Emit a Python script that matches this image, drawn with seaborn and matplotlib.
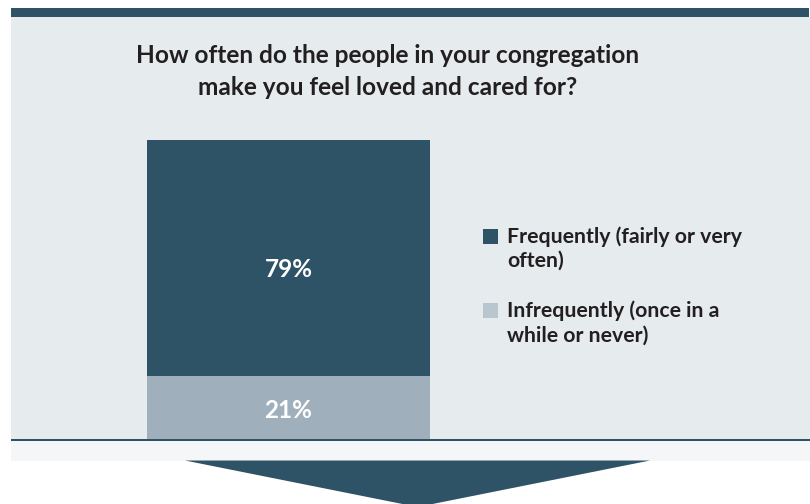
import matplotlib
matplotlib.use("Agg")
import matplotlib.pyplot as plt
from matplotlib.patches import Rectangle, Polygon
import seaborn as sns
import pandas as pd

# Survey response shares (percent)
categories = ["Frequently (fairly or very\noften)", "Infrequently (once in a\nwhile or never)"]
values = [79, 21]
value_labels = ["79%", "21%"]
title = "How often do the people in your congregation\nmake you feel loved and cared for?"

DARK = "#2e5266"
LIGHT_BAR = "#9fb0bc"
LIGHT_SWATCH = "#b7c6cf"
PANEL = "#e6ebee"
STRIP = "#f4f6f8"
TEXT = "#231f20"

sns.set_theme(style="white")
plt.rcParams["font.family"] = ["Lato", "DejaVu Sans"]

W, H = 810, 504
fig = plt.figure(figsize=(W / 100, H / 100), dpi=100)
fig.patch.set_facecolor("white")

# Background layer in pixel coordinates
bg = fig.add_axes([0, 0, 1, 1])
bg.set_xlim(0, W)
bg.set_ylim(H, 0)
bg.axis("off")
bg.set_zorder(0)
bg.add_patch(Rectangle((11, 17), 799, 422, facecolor=PANEL, edgecolor="none"))
bg.add_patch(Rectangle((11, 8), 798, 9, facecolor=DARK, edgecolor="none"))
bg.add_patch(Rectangle((11, 441), 799, 20, facecolor=STRIP, edgecolor="none"))
bg.add_patch(Polygon([(185, 460.5), (650, 460.5), (417.5, 507)], closed=True,
                     facecolor=DARK, edgecolor="none"))
bg.add_patch(Rectangle((11, 438.8), 799, 2.6, facecolor=DARK, edgecolor="none", zorder=5))

# Title, one line at a time on fixed baselines
for line, base in zip(title.split("\n"), [63, 95]):
    bg.text(388, base, line, ha="center", va="baseline", fontsize=17.6,
            fontweight=700, color=TEXT)

# Legend
swatches = [DARK, LIGHT_SWATCH]
swatch_top = [229, 303]
legend_baselines = [[243, 267], [317, 342]]
for col, lab, top, bases in zip(swatches, categories, swatch_top, legend_baselines):
    bg.add_patch(Rectangle((483, top), 15, 14.5, facecolor=col, edgecolor="none"))
    for line, base in zip(lab.split("\n"), bases):
        bg.text(507, base, line, ha="left", va="baseline", fontsize=15.3,
                fontweight=700, color=TEXT)

# Stacked bar
df = pd.DataFrame({
    "group": ["all"],
    "top": [values[0] + values[1]],
    "bottom": [values[1]],
})
ax = fig.add_axes([147 / W, (H - 439) / H, 283 / W, 299 / H])
ax.set_zorder(1)
ax.patch.set_alpha(0)
sns.barplot(data=df, x="group", y="top", color=DARK, width=1.0, saturation=1,
            linewidth=0, ax=ax)
sns.barplot(data=df, x="group", y="bottom", color=LIGHT_BAR, width=1.0, saturation=1,
            linewidth=0, ax=ax)
ax.set_xlim(-0.5, 0.5)
ax.set_ylim(0, 100)
ax.axis("off")

# Value labels inside the segments (placed in pixel coordinates)
for lab, base in zip(value_labels, [277, 418]):
    ax.text(288.5, base, lab, ha="center", va="baseline", color="white",
            fontsize=17.5, fontweight=700, transform=bg.transData, clip_on=False)

fig.savefig("out.png", dpi=100, facecolor="white")
